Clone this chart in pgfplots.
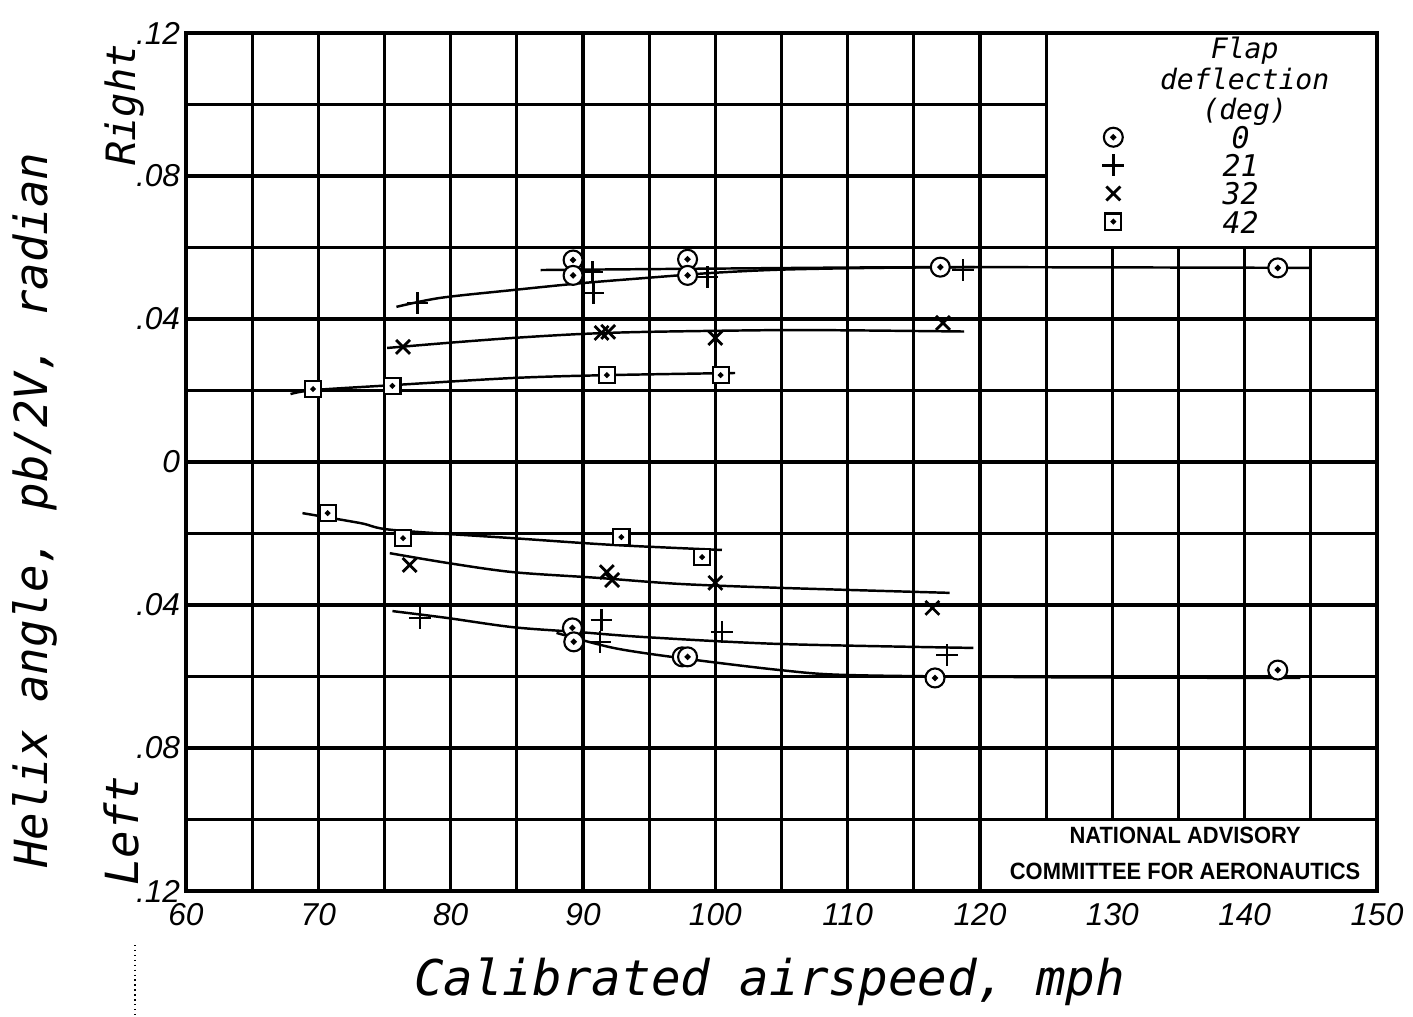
\documentclass[border=0pt]{standalone}
\usepackage{fontspec}
\setmainfont{DejaVu Sans Mono}
\newfontfamily\nacafont{Liberation Sans}
\newfontfamily\tickfont{Liberation Sans}
\usepackage{pgfplots}
\pgfplotsset{compat=1.18}

% circle with centre dot, square with centre dot
\pgfdeclareplotmark{cdot}{%
  \pgfpathcircle{\pgfpointorigin}{\pgfplotmarksize}%
  \pgfsetfillcolor{white}\pgfusepathqfillstroke
  \pgfpathcircle{\pgfpointorigin}{0.2\pgfplotmarksize}%
  \pgfsetfillcolor{black}\pgfusepathqfillstroke}
\pgfdeclareplotmark{sdot}{%
  \pgfpathrectangle{\pgfpoint{-\pgfplotmarksize}{-\pgfplotmarksize}}{\pgfpoint{2\pgfplotmarksize}{2\pgfplotmarksize}}%
  \pgfsetfillcolor{white}\pgfusepathqfillstroke
  \pgfpathcircle{\pgfpointorigin}{0.2\pgfplotmarksize}%
  \pgfsetfillcolor{black}\pgfusepathqfillstroke}

\begin{document}
\begin{tikzpicture}
\begin{axis}[
  scale only axis,
  width=11.91cm, height=8.58cm,
  xmin=60, xmax=150, ymin=-0.12, ymax=0.12,
  xtick={60,70,...,150},
  minor xtick={65,75,...,145},
  ytick={-0.12,-0.08,-0.04,0,0.04,0.08,0.12},
  yticklabels={.12,.08,.04,0,.04,.08,.12},
  minor ytick={-0.10,-0.06,-0.02,0.02,0.06,0.10},
  grid=both,
  major grid style={black, line width=0.9pt},
  minor grid style={black, line width=0.9pt},
  axis line style={line width=1pt},
  major tick length=0pt, minor tick length=0pt,
  tick label style={font=\tickfont\itshape\fontsize{9}{9}\selectfont},
  yticklabel style={inner xsep=1.5pt},
  /pgf/number format/assume math mode=true,
  clip=false,
  legend image code/.code={\draw[#1] plot coordinates {(0cm,0cm)};},
  legend style={at={(axis cs:128.4,0.0962)}, anchor=north west,
    draw=none, fill=none, font=\fontsize{8.5}{8.5}\selectfont\itshape,
    column sep=0pt, row sep=1.5pt,
    nodes={inner sep=0pt, text height=6.5pt, text depth=0pt}},
]
% boxes that cover the grid
\draw[line width=0.9pt, fill=white] (axis cs:125,0.06) rectangle (axis cs:150,0.12);
\draw[line width=0.9pt, fill=white] (axis cs:120,-0.12) rectangle (axis cs:150,-0.10);

% faired curves
\addplot[smooth, line width=0.7pt, forget plot] coordinates {(86.8,0.0537) (100,0.0541) (117,0.0545) (145,0.0543)};
\addplot[smooth, line width=0.7pt, forget plot] coordinates {(75.9,0.0434) (79.2,0.0459) (84.7,0.0481) (89.8,0.050) (94.8,0.0515) (99.8,0.0529) (104.9,0.0538) (112,0.0543) (119.6,0.0545)};
\addplot[smooth, line width=0.7pt, forget plot] coordinates {(75.2,0.0319) (79.7,0.0333) (84.7,0.0347) (89.8,0.0358) (94.8,0.0364) (104.9,0.0369) (111,0.0368) (118.8,0.0365)};
\addplot[smooth, line width=0.7pt, forget plot] coordinates {(67.9,0.019) (69.6,0.0201) (75.6,0.0215) (84.7,0.0235) (91.8,0.0243) (101.5,0.0249)};
\addplot[smooth, line width=0.7pt, forget plot] coordinates {(68.8,-0.0143) (73.2,-0.0171) (75.6,-0.019) (84.7,-0.0213) (92.3,-0.0232) (100.5,-0.0246)};
\addplot[smooth, line width=0.7pt, forget plot] coordinates {(75.4,-0.0255) (79.7,-0.0282) (84.7,-0.0308) (91.1,-0.0324) (97.3,-0.0341) (104.9,-0.0352) (117.7,-0.0366)};
\addplot[smooth, line width=0.7pt, forget plot] coordinates {(75.6,-0.0417) (79.7,-0.0436) (84.7,-0.0462) (89.8,-0.0476) (94.8,-0.049) (104.9,-0.0509) (119.5,-0.052)};
\addplot[smooth, line width=0.7pt, forget plot] coordinates {(88.0,-0.0478) (92.3,-0.052) (97.3,-0.0548) (104.9,-0.0582) (110.2,-0.0596) (125,-0.0602) (144.2,-0.0604)};

% test points
\addplot[only marks, mark=cdot, mark size=2.7pt, line width=0.6pt] coordinates {
  (89.25,0.0565) (89.25,0.0522) (97.9,0.0567) (97.9,0.0522) (117.0,0.0545) (142.5,0.0543)
  (89.2,-0.0464) (89.3,-0.0503) (97.5,-0.0545) (97.9,-0.0545) (116.6,-0.0604) (142.5,-0.0582)};
\addlegendentry{\makebox[2.33cm][c]{0}}
\addplot[only marks, mark=+, mark size=3.1pt, line width=0.7pt] coordinates {
  (77.5,0.0445) (90.7,0.0531) (90.8,0.0473) (99.4,0.0517) (118.7,0.0537)
  (77.7,-0.0436) (91.4,-0.0442) (91.3,-0.0503) (100.5,-0.0476) (117.5,-0.054)};
\addlegendentry{\makebox[2.33cm][c]{21}}
\addplot[only marks, mark=x, mark size=2.8pt, line width=0.8pt] coordinates {
  (76.4,0.0322) (91.4,0.0361) (91.9,0.0364) (100.0,0.0347) (117.2,0.0389)
  (76.9,-0.0288) (91.8,-0.0308) (92.2,-0.033) (100.0,-0.0338) (116.4,-0.0408)};
\addlegendentry{\makebox[2.33cm][c]{32}}
\addplot[only marks, mark=sdot, mark size=2.3pt, line width=0.6pt] coordinates {
  (69.6,0.0204) (75.6,0.0213) (91.8,0.0243) (100.4,0.0243)
  (70.7,-0.0143) (76.4,-0.0213) (92.9,-0.021) (99.0,-0.0266)};
\addlegendentry{\makebox[2.33cm][c]{42}}

\node[align=center, anchor=north, inner sep=0pt, font=\fontsize{8}{8.8}\selectfont\itshape]
  at (axis cs:140.0,0.1192) {Flap\\deflection\\(deg)};
\node[align=center, xscale=0.93, transform shape, font=\nacafont\bfseries\fontsize{6.7}{10.2}\selectfont]
  at (axis cs:135.5,-0.1094) {NATIONAL ADVISORY\\COMMITTEE FOR AERONAUTICS};

\node[rotate=90, font=\fontsize{13}{13}\selectfont\itshape]
  at ([xshift=-1.51cm]rel axis cs:0,0.444) {Helix angle, pb/2V, radian};
\node[rotate=90, font=\fontsize{11.5}{11.5}\selectfont\itshape]
  at ([xshift=-0.62cm]rel axis cs:0,0.916) {Right};
\node[rotate=90, font=\fontsize{13}{13}\selectfont\itshape]
  at ([xshift=-0.65cm]rel axis cs:0,0.07) {Left};
\node[anchor=base, font=\fontsize{14}{14}\selectfont\itshape]
  at ([yshift=-1.04cm]rel axis cs:0.49,0) {Calibrated airspeed, mph};
\draw[densely dotted, line width=0.4pt]
  ([xshift=-0.51cm,yshift=-0.54cm]rel axis cs:0,0) -- ([xshift=-0.51cm,yshift=-1.25cm]rel axis cs:0,0);
\end{axis}
\pgfresetboundingbox
\path[use as bounding box] ([shift={(-1.86cm,-1.25cm)}]current axis.south west)
  rectangle ([shift={(0.36cm,0.33cm)}]current axis.north east);
\end{tikzpicture}
\end{document}
